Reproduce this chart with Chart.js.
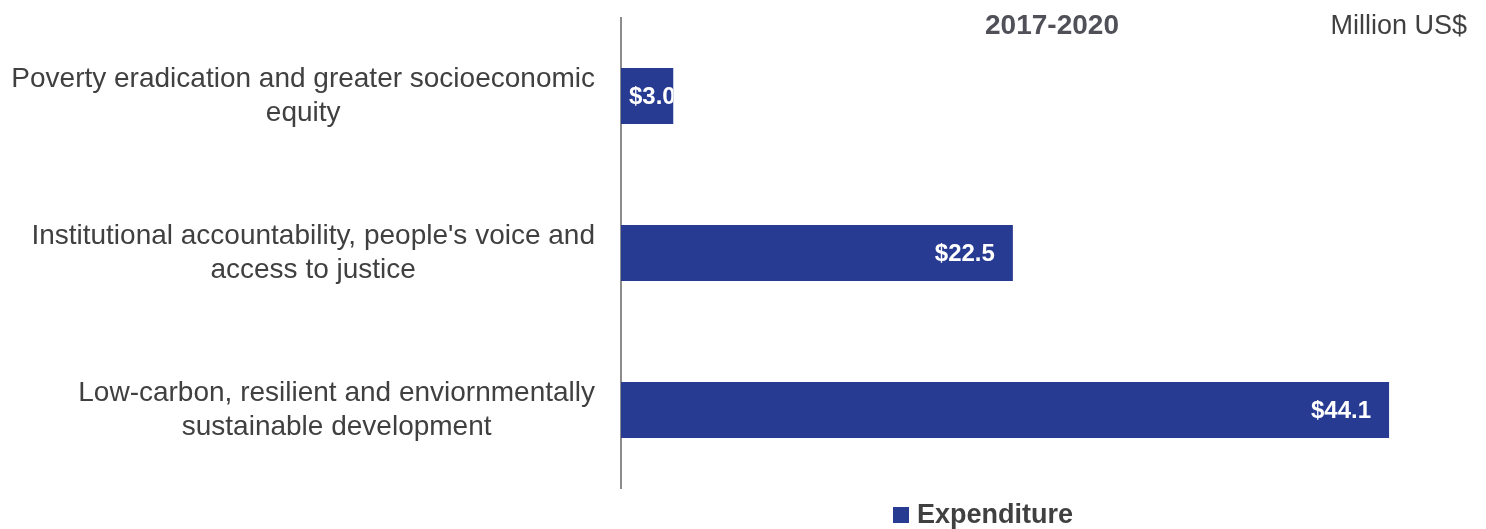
<!DOCTYPE html>
<html>
<head>
<meta charset="utf-8">
<script src="https://cdn.jsdelivr.net/npm/chart.js@4/dist/chart.umd.min.js"></script>
<style>
  html, body { margin: 0; padding: 0; background: #ffffff; }
  #wrap { position: relative; width: 1486px; height: 529px; }
</style>
</head>
<body>
<div id="wrap"><canvas id="c"></canvas></div>
<script>
// ---- data ----
const categories = [
  ["Poverty eradication and greater socioeconomic", "equity"],
  ["Institutional accountability, people's voice and", "access to justice"],
  ["Low-carbon, resilient and enviornmentally", "sustainable development"]
];
const expenditure = [3.0, 22.5, 44.1];
const seriesName = "Expenditure";
const periodTitle = "2017-2020";
const unitLabel = "Million US$";

const BAR_COLOR = '#283B93';
const TEXT_COLOR = '#404040';
const FONT = '"Liberation Sans", Arial, Helvetica, sans-serif';

const overlayPlugin = {
  id: 'overlay',
  afterDraw(chart) {
    const ctx = chart.ctx;
    const yScale = chart.scales.y;
    const area = chart.chartArea;
    ctx.save();

    // category labels: block right-aligned, lines centered within block
    ctx.font = '28px ' + FONT;
    ctx.fillStyle = TEXT_COLOR;
    ctx.textBaseline = 'middle';
    ctx.textAlign = 'center';
    const lineH = 34;
    const rightEdge = area.left - 26;
    categories.forEach((lines, i) => {
      const y = yScale.getPixelForTick(i);
      const maxW = Math.max(...lines.map(l => ctx.measureText(l).width));
      const cx = rightEdge - maxW / 2;
      const y0 = y - (lines.length - 1) * lineH / 2;
      lines.forEach((l, k) => ctx.fillText(l, cx, y0 + k * lineH));
    });

    // value labels inside bars
    const meta = chart.getDatasetMeta(0);
    ctx.font = 'bold 24px ' + FONT;
    ctx.fillStyle = '#ffffff';
    ctx.textAlign = 'left';
    meta.data.forEach((bar, i) => {
      const txt = '$' + expenditure[i].toFixed(1);
      const w = ctx.measureText(txt).width;
      const left = Math.min(bar.base, bar.x);
      const right = Math.max(bar.base, bar.x);
      const x = Math.max(left + 8, right - 18 - w);
      ctx.save();
      ctx.beginPath();
      ctx.rect(left, bar.y - bar.height / 2, right - left, bar.height);
      ctx.clip();
      ctx.fillText(txt, x, bar.y + 1);
      ctx.restore();
    });

    // period title and unit
    ctx.font = 'bold 28px ' + FONT;
    ctx.fillStyle = '#505058';
    ctx.textAlign = 'center';
    ctx.fillText(periodTitle, 1052, 26);
    ctx.font = '27px ' + FONT;
    ctx.fillStyle = TEXT_COLOR;
    ctx.textAlign = 'right';
    ctx.fillText(unitLabel, 1467, 27);

    // legend
    ctx.fillStyle = BAR_COLOR;
    ctx.fillRect(893, 507, 16, 16);
    ctx.font = 'bold 27px ' + FONT;
    ctx.fillStyle = TEXT_COLOR;
    ctx.textAlign = 'left';
    ctx.fillText(seriesName, 917, 516);

    ctx.restore();
  }
};

new Chart(document.getElementById('c'), {
  type: 'bar',
  data: {
    labels: categories,
    datasets: [{
      label: seriesName,
      data: expenditure,
      backgroundColor: BAR_COLOR,
      borderWidth: 0,
      categoryPercentage: 1.0,
      barPercentage: 0.357
    }]
  },
  options: {
    indexAxis: 'y',
    responsive: true,
    maintainAspectRatio: false,
    animation: false,
    events: [],
    layout: { padding: { left: 0, top: 17.5, right: 29, bottom: 40.5 } },
    plugins: {
      legend: { display: false },
      tooltip: { enabled: false },
      title: { display: false }
    },
    scales: {
      x: {
        display: false,
        min: 0,
        max: 48
      },
      y: {
        display: true,
        grid: { display: false, drawTicks: false },
        border: { display: true, color: '#8c8c8c', width: 2 },
        ticks: { display: false },
        afterFit(scale) { scale.width = 621; }
      }
    }
  },
  plugins: [overlayPlugin]
});
</script>
</body>
</html>
